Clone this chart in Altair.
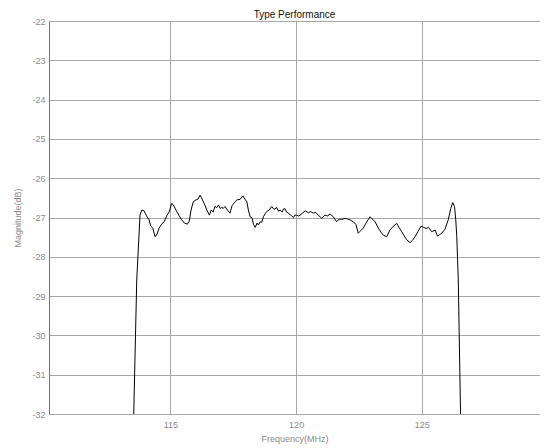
import altair as alt
import pandas as pd

freq = [113.54, 113.66, 113.79, 113.86, 113.95, 114.05, 114.15, 114.22, 114.30, 114.39,
        114.47, 114.55, 114.65, 114.75, 114.85, 114.95, 115.05, 115.12, 115.22, 115.35,
        115.45, 115.55, 115.67, 115.75, 115.82, 115.91, 116.02, 116.10, 116.18, 116.26,
        116.34, 116.45, 116.55, 116.62, 116.70, 116.77, 116.84, 116.91, 116.98, 117.04,
        117.10, 117.17, 117.27, 117.37, 117.45, 117.57, 117.65, 117.77, 117.88, 117.96,
        118.04, 118.10, 118.17, 118.25, 118.30, 118.37, 118.45, 118.50, 118.57, 118.63,
        118.70, 118.76, 118.83, 118.93, 119.03, 119.10, 119.16, 119.22, 119.30, 119.36,
        119.45, 119.50, 119.56, 119.62, 119.69, 119.79, 119.89, 119.95, 120.02, 120.10,
        120.16, 120.25, 120.36, 120.49, 120.58, 120.68, 120.78, 120.88, 121.02, 121.15,
        121.25, 121.35, 121.48, 121.61, 121.71, 121.81, 121.95, 122.05, 122.14, 122.28,
        122.38, 122.47, 122.67, 122.80, 122.94, 123.14, 123.27, 123.38, 123.47, 123.60,
        123.73, 123.87, 124.00, 124.10, 124.20, 124.30, 124.40, 124.53, 124.63, 124.73,
        124.85, 124.97, 125.07, 125.17, 125.26, 125.39, 125.53, 125.62, 125.70, 125.79,
        125.92, 126.05, 126.15, 126.23, 126.30, 126.35, 126.39, 126.45, 126.54]

magnitude = [-32.00, -28.59, -26.94, -26.81, -26.83, -26.96, -27.06, -27.22, -27.27, -27.49,
             -27.42, -27.27, -27.17, -27.11, -26.96, -26.86, -26.64, -26.68, -26.81, -26.96,
             -27.06, -27.14, -27.17, -27.09, -26.81, -26.60, -26.55, -26.53, -26.43, -26.53,
             -26.64, -26.81, -26.94, -26.81, -26.86, -26.72, -26.75, -26.68, -26.77, -26.74,
             -26.77, -26.72, -26.81, -26.89, -26.70, -26.60, -26.55, -26.54, -26.45, -26.53,
             -26.60, -26.81, -26.98, -27.01, -27.17, -27.25, -27.14, -27.19, -27.11, -27.12,
             -26.98, -26.91, -26.85, -26.81, -26.72, -26.78, -26.79, -26.74, -26.84, -26.81,
             -26.86, -26.78, -26.78, -26.86, -26.89, -26.94, -27.00, -26.94, -26.94, -26.96,
             -26.94, -26.89, -26.83, -26.88, -26.85, -26.89, -26.87, -26.94, -27.02, -26.94,
             -26.96, -26.91, -26.98, -27.11, -27.04, -27.05, -27.02, -27.04, -27.06, -27.11,
             -27.18, -27.40, -27.27, -27.12, -26.98, -27.11, -27.27, -27.38, -27.45, -27.49,
             -27.32, -27.22, -27.15, -27.26, -27.36, -27.47, -27.57, -27.64, -27.58, -27.49,
             -27.35, -27.22, -27.25, -27.28, -27.25, -27.36, -27.32, -27.47, -27.44, -27.40,
             -27.30, -27.06, -26.77, -26.62, -26.72, -27.06, -27.49, -28.59, -32.00]

x_ticks = [115, 120, 125]
y_ticks = [-22, -23, -24, -25, -26, -27, -28, -29, -30, -31, -32]

df = pd.DataFrame({"freq": freq, "mag": magnitude})

FONT = "Liberation Sans"
GRAY = "#8a8a8a"
HYPHEN_LABEL = "datum.value < 0 ? '-' + abs(datum.value) : '' + datum.value"

chart = alt.Chart(df).mark_line(color="black", strokeWidth=1, clip=True).encode(
    x=alt.X("freq:Q",
            scale=alt.Scale(domain=[110.17, 129.70], nice=False, zero=False),
            axis=alt.Axis(values=x_ticks, title="Frequency(MHz)", grid=True,
                          ticks=False, domain=False, labelPadding=6, titlePadding=5,
                          labelExpr=HYPHEN_LABEL)),
    y=alt.Y("mag:Q",
            scale=alt.Scale(domain=[-32, -22], nice=False, zero=False),
            axis=alt.Axis(values=y_ticks, title="Magnitude(dB)", grid=True,
                          ticks=False, domain=False, labelPadding=4, titlePadding=9,
                          labelExpr=HYPHEN_LABEL)),
    order="freq:Q",
).properties(
    width=491,
    height=393,
    title=alt.TitleParams("Type Performance", fontSize=10, font=FONT, color="#111111",
                          fontWeight="normal", offset=0, dy=3),
    autosize=alt.AutoSizeParams(type="none"),
    padding={"left": 41, "top": 13, "right": 0, "bottom": 34},
).configure_view(
    stroke="#707070", strokeWidth=1
).configure_axis(
    gridColor="#a8a8a8", gridOpacity=1, gridWidth=1,
    labelFont=FONT, labelFontSize=9, labelColor=GRAY,
    titleFont=FONT, titleFontSize=9, titleColor=GRAY, titleFontWeight="normal",
)

chart.save("out.html", embed_options={"renderer": "svg", "actions": False})
